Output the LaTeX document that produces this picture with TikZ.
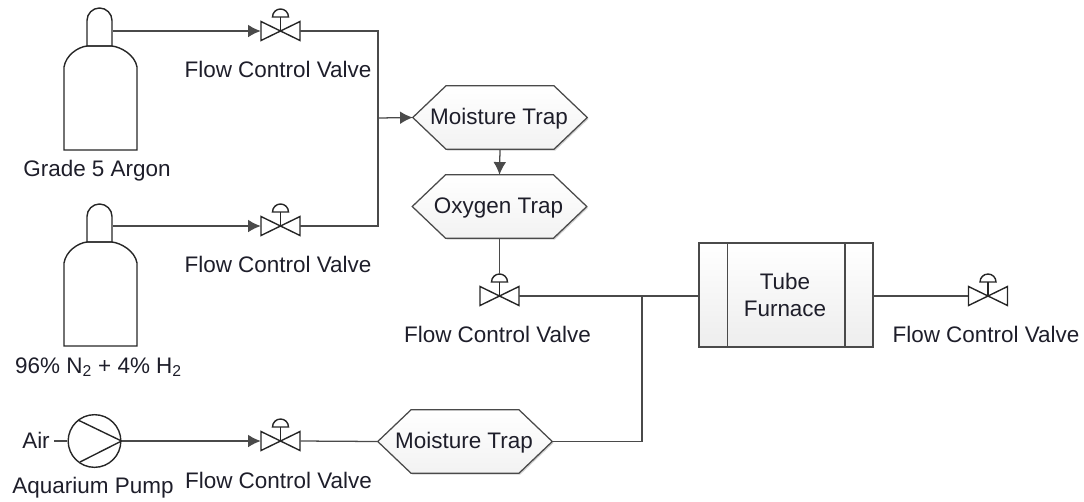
\documentclass[tikz,border=0pt]{standalone}
\usepackage{fontspec}
\setmainfont{Liberation Sans}
\usetikzlibrary{shadows,arrows.meta}
\definecolor{linegray}{HTML}{4A4A4A}
\definecolor{inkdark}{HTML}{1E1E2A}
\tikzset{
  x=0.75pt,y=-0.75pt,
  pipe/.style={draw=linegray,line width=0.95pt},
  flowpipe/.style={pipe,-{Latex[length=9.5pt,width=9.5pt,color=linegray]}},
  glyph/.style={draw=black!85,line width=1.05pt,line join=miter},
  lbl/.style={font=\fontsize{16.85}{20}\selectfont,text=inkdark,inner sep=0pt,align=center},
  vbody/.style={inner sep=0pt,minimum width=29.25pt,minimum height=14.25pt},
  trapbox/.style={inner sep=0pt,minimum width=130.5pt,minimum height=47.25pt},
  trapface/.style={draw=linegray,line width=0.95pt,top color=white,bottom color=black!5,
    drop shadow={shadow xshift=1pt,shadow yshift=-1pt,opacity=0.18,fill=black}},
  valveglyph/.pic={
    \draw[glyph] (-19.5,-9.5) -- (19.5,9.5) -- (19.5,-9.5) -- (-19.5,9.5) -- cycle;
    \draw[glyph] (0,0) -- (0,-14);
    \draw[glyph] (-8,-14) -- (8,-14) arc[start angle=0,end angle=-180,radius=8] -- cycle;
  },
  cylinderglyph/.pic={
    \draw[glyph] (87,46) -- (87,20.5) arc[start angle=180,end angle=360,radius=12.5] -- (112,46) -- cycle;
    \draw[glyph] (64,150) -- (64,67) .. controls (66,55) and (78,47) .. (87,46) -- (112,46)
       .. controls (121,47) and (135,55) .. (137,67) -- (137,150) -- cycle;
  }
}
\newcommand{\trapnode}[3]{%
  \node[trapbox] (#1) at (#2) {};
  \draw[trapface] (#1.west) -- ([xshift=25pt]#1.north west) -- ([xshift=-25pt]#1.north east)
    -- (#1.east) -- ([xshift=-25pt]#1.south east) -- ([xshift=25pt]#1.south west) -- cycle;
  \node[lbl] (#1text) at ([xshift=-0.75pt,yshift=-0.8pt]#1.center) {#3};
}
\begin{document}
\begin{tikzpicture}
\useasboundingbox (0,0) rectangle (1084,501);
% valves
\node[vbody] (v1) at (280.5,31) {};
\node[vbody] (v2) at (280.5,226) {};
\node[vbody] (v3) at (499.5,296) {};
\node[vbody] (v4) at (988,296) {};
\node[vbody] (v5) at (280.5,441) {};
\foreach \v in {v1,v2,v3,v4,v5} \pic at (\v) {valveglyph};
\coordinate (v3top) at (499.5,274);
% cylinders
\pic at (0,0) {cylinderglyph};
\pic at (0,196) {cylinderglyph};
\coordinate (c1) at (113,31);
\coordinate (c2) at (113,226);
% traps
\trapnode{mt1}{500,117.5}{Moisture Trap}
\trapnode{ot}{499.5,206.5}{Oxygen Trap}
\trapnode{mt2}{465,441.5}{Moisture Trap}
% furnace
\node[draw=linegray,line width=0.95pt,top color=white,bottom color=black!7,
  minimum width=130.5pt,minimum height=78pt,inner sep=0pt,
  drop shadow={shadow xshift=1pt,shadow yshift=-1pt,opacity=0.18,fill=black}] (tf) at (786,295) {};
\coordinate (tfa) at (727.5,243);
\coordinate (tfb) at (845,243);
\draw[pipe] (tfa) -- (tfa |- tf.south);
\draw[pipe] (tfb) -- (tfb |- tf.south);
\node[lbl] (tube) at (785,281) {Tube};
\node[lbl] (furn) at (785,309) {Furnace};
% pump
\node[circle,draw=black!85,line width=1.05pt,minimum size=39.5pt,inner sep=0pt] (pump) at (94.5,441) {};
\coordinate (pumpa) at (78,420);
\coordinate (pumpb) at (80,462);
\draw[glyph] (pumpa) -- (pump.east) -- (pumpb);
\coordinate (airend) at (54,441);
\coordinate (j1) at (378,118);
\coordinate (j2) at (642,296);
% connectors
\draw[flowpipe] (c1) -- (v1.west);
\draw[flowpipe] (c2) -- (v2.west);
\draw[pipe] (v1.east) -| (j1) |- (v2.east);
\draw[flowpipe] (j1) -- (mt1.west);
\draw[flowpipe] (mt1.south) -- (ot.north);
\draw[pipe] (ot.south) -- (v3top);
\draw[pipe] (v3.east) -- (tf.west |- v3.east);
\draw[pipe] (tf.east |- v4.west) -- (v4.west);
\draw[pipe] (airend) -- (pump.west);
\draw[flowpipe] (pump.east) -- (v5.west);
\draw[pipe] (v5.east) -- (mt2.west);
\draw[pipe] (mt2.east) -| (j2);
% labels
\node[lbl] (l1) at (278,69) {Flow Control Valve};
\node[lbl] (l2) at (278,264) {Flow Control Valve};
\node[lbl] (l3) at (497.5,334) {Flow Control Valve};
\node[lbl] (l4) at (986,334) {Flow Control Valve};
\node[lbl] (l5) at (278.5,480) {Flow Control Valve};
\node[lbl] (g1) at (97,171) {Grade 5 Argon};
\node[lbl] (g2) at (98.5,367) {96\% N\textsubscript{2} + 4\% H\textsubscript{2}};
\node[lbl] (air) at (36,440.5) {Air};
\node[lbl] (ap) at (93,488) {Aquarium Pump};
\end{tikzpicture}
\end{document}
